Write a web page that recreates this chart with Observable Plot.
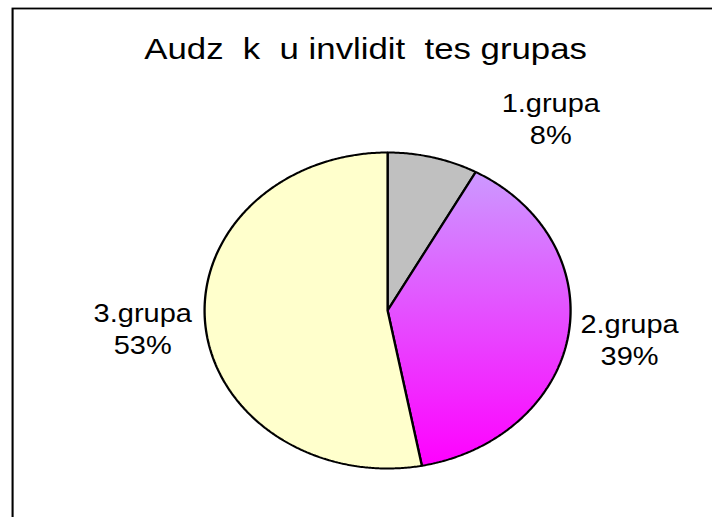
<!DOCTYPE html>
<html><head><meta charset="utf-8">
<script src="https://cdn.jsdelivr.net/npm/d3@7"></script>
<script src="https://cdn.jsdelivr.net/npm/@observablehq/plot@0.6"></script>
<style>
html,body{margin:0;padding:0;overflow:hidden;background:#fff}
svg text{white-space:pre}
</style>
</head><body><div id="chart"></div>
<script>
const title = "Audz  k  u invlidit  tes grupas";
const groups = ["1.grupa", "2.grupa", "3.grupa"];
const shares = [8, 39, 53];
const shareLabels = ["8%", "39%", "53%"];

// The original chart is stretched horizontally; draw it unstretched, then widen the SVG.
const W = 712, H = 517, S = 1.16, Wi = Math.round(W / S);
const sx = W / Wi;

const total = d3.sum(shares);
let acc = 0;
const slices = groups.map((g, i) => {
  const a0 = acc / total * 2 * Math.PI; acc += shares[i];
  const a1 = acc / total * 2 * Math.PI;
  return {name: g, a0, a1, mid: (a0 + a1) / 2, label: g + "\n" + shareLabels[i]};
});
const pts = [];
for (const s of slices) {
  pts.push({name: s.name, u: 0, v: 0});
  const n = Math.max(2, Math.ceil((s.a1 - s.a0) / (Math.PI / 360)));
  for (let k = 0; k <= n; k++) {
    const a = s.a0 + (s.a1 - s.a0) * k / n;
    pts.push({name: s.name, u: Math.sin(a), v: -Math.cos(a)});
  }
  pts.push({name: s.name, u: 0, v: 0});
}
const R = 1.3;
const labelPts = slices.map(s => ({name: s.name, label: s.label, u: R * Math.sin(s.mid), v: -R * Math.cos(s.mid)}));
// screen-pixel nudges of the label blocks (Excel "best fit" placement)
const nudge = {"1.grupa": [104, 6], "2.grupa": [7, -4], "3.grupa": [-8, -2]};

const font = "'Liberation Sans', Arial, sans-serif";
const plot = Plot.plot({
  width: Wi, height: H,
  margin: 0,
  style: {fontFamily: font, background: "#fff", overflow: "hidden"},
  x: {domain: [-1, 1], range: [204 / sx, 570 / sx], axis: null},
  y: {domain: [-1, 1], range: [152, 468], axis: null},
  color: {domain: groups, range: ["#c0c0c0", "url(#grad2)", "#ffffcc"]},
  marks: [
    Plot.frame({insetLeft: 12 / sx, insetTop: 8, insetRight: -20, insetBottom: -20, stroke: "#000", strokeWidth: 1.8}),
    Plot.line(pts, {x: "u", y: "v", z: "name", fill: "name", stroke: "#000", strokeWidth: 2, strokeLinejoin: "miter", curve: "linear"}),
    ...slices.map(s => Plot.text(labelPts.filter(d => d.name === s.name), {
      x: "u", y: "v", text: "label", fontSize: 25, lineHeight: 1.3, fill: "#000",
      textAnchor: "middle", lineAnchor: "middle", dx: nudge[s.name][0] / sx, dy: nudge[s.name][1]
    })),
    Plot.text([title], {frameAnchor: "top", text: d => d, dx: 9 / sx, dy: 48.5, fontSize: 30, lineAnchor: "middle", fill: "#000"})
  ]
});
const defs = d3.select(plot).insert("defs", ":first-child");
const g = defs.append("linearGradient").attr("id", "grad2").attr("x1", 0).attr("y1", 0).attr("x2", 0).attr("y2", 1);
g.append("stop").attr("offset", "0%").attr("stop-color", "#cc99ff");
g.append("stop").attr("offset", "100%").attr("stop-color", "#ff00ff");
plot.setAttribute("width", W);
plot.setAttribute("height", H);
plot.setAttribute("preserveAspectRatio", "none");
plot.style.width = W + "px";
plot.style.height = H + "px";
plot.style.maxWidth = "none";
document.getElementById("chart").appendChild(plot);
</script>
</body></html>
